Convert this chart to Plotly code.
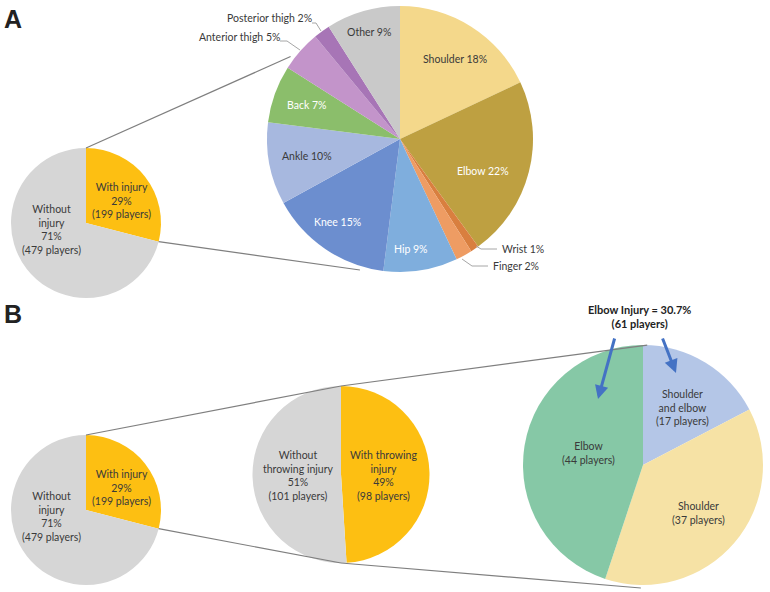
import math
import plotly.graph_objects as go

W, H = 770, 592

# ---------------- data ----------------
overall_labels = ["With injury", "Without injury"]
overall_pct = [29, 71]
overall_players = [199, 479]

site_labels = ["Shoulder", "Elbow", "Wrist", "Finger", "Hip", "Knee", "Ankle",
               "Back", "Anterior thigh", "Posterior thigh", "Other"]
site_pct = [18, 22, 1, 2, 9, 15, 10, 7, 5, 2, 9]

throw_labels = ["With throwing injury", "Without throwing injury"]
throw_pct = [49, 51]
throw_players = [98, 101]

elbow_labels = ["Shoulder and elbow", "Shoulder", "Elbow"]
elbow_players = [17, 37, 44]

# ---------------- styles ----------------
gold, grey = "#FDBF12", "#D6D6D6"
site_colors = ["#F4D88B", "#BEA041", "#D97F3F", "#EE9C63", "#7FAEDD", "#6C8ECF",
               "#A7B8DF", "#8BBE6B", "#C394CA", "#A775B6", "#C9C9C9"]
elbow_colors = ["#B4C6E7", "#F6E2A5", "#86C8A6"]
dark = "#3A3A3A"
FONT = "Lato"


def px(x):
    return x / W


def py(y):
    return 1 - y / H


def dom(cx, cy, r):
    return dict(x=[px(cx - r), px(cx + r)], y=[py(cy + r), py(cy - r)])


def polar(c, r, deg):
    a = math.radians(deg)
    return (c[0] + r * math.sin(a), c[1] - r * math.cos(a))


# pie geometry (pixels)
A_small, A_small_r = (86, 223), 75
A_big, A_big_r = (400, 139), 133
B_small, B_small_r = (86, 510), 75
B_mid, B_mid_r = (341, 474.5), 88.5
B_big, B_big_r = (643, 465), 120

fig = go.Figure()


def add_pie(values, colors, c, r, name):
    fig.add_trace(go.Pie(values=values, marker=dict(colors=colors, line=dict(width=0)),
                         sort=False, direction="clockwise", rotation=0,
                         textinfo="none", hoverinfo="none", showlegend=False,
                         domain=dom(c[0], c[1], r), name=name))


add_pie(overall_pct, [gold, grey], A_small, A_small_r, "A overall")
add_pie(site_pct, site_colors, A_big, A_big_r, "A sites")
add_pie(overall_pct, [gold, grey], B_small, B_small_r, "B overall")
add_pie(throw_pct, [gold, grey], B_mid, B_mid_r, "B throwing")
add_pie(elbow_players, elbow_colors, B_big, B_big_r, "B elbow")

shapes = []


def seg(p, q, color="#7F7F7F", width=1.2):
    shapes.append(dict(type="line", xref="paper", yref="paper",
                       x0=px(p[0]), y0=py(p[1]), x1=px(q[0]), y1=py(q[1]),
                       line=dict(color=color, width=width)))


# connector lines panel A
edge_deg = overall_pct[0] / sum(overall_pct) * 360
seg(polar(A_small, A_small_r, 0), polar(A_big, A_big_r + 4, 307))
seg(polar(A_small, A_small_r, edge_deg), polar(A_big, A_big_r + 4, 197))
# connector lines panel B
seg(polar(B_small, B_small_r, 0), polar(B_mid, B_mid_r, 0))
seg(polar(B_mid, B_mid_r, 0), polar(B_big, B_big_r, 2))
seg(polar(B_small, B_small_r, edge_deg), polar(B_mid, B_mid_r, 180))
seg(polar(B_mid, B_mid_r, 180), polar(B_big, B_big_r + 3, 181))

# leader lines for small slices
lead = "#A6A6A6"
seg((476, 246), (481, 249), lead, 1)
seg((481, 249), (497, 249), lead, 1)
seg((462, 259), (472, 266), lead, 1)
seg((472, 266), (488, 266), lead, 1)
seg((300, 50), (287, 41), lead, 1)
seg((287, 41), (280, 41), lead, 1)
seg((321, 31), (316, 23), lead, 1)
seg((316, 23), (312, 23), lead, 1)

annotations = []


def txt(x, y, s, color=dark, size=10.5, bold=False, xanchor="center"):
    if bold:
        s = "<b>" + s + "</b>"
    annotations.append(dict(x=px(x), y=py(y), xref="paper", yref="paper", text=s,
                            showarrow=False, xanchor=xanchor, yanchor="middle",
                            align="center",
                            font=dict(family=FONT, size=size, color=color)))


# panel letters
for letter, ly in (("A", 19), ("B", 314)):
    annotations.append(dict(x=px(13), y=py(ly), xref="paper", yref="paper",
                            text=f"<b>{letter}</b>", showarrow=False,
                            xanchor="center", yanchor="middle",
                            font=dict(family="Liberation Sans", size=25, color="#222")))

# small pies labels
for dy in (0, 287):
    txt(121, 200 + dy, f"{overall_labels[0]}<br>{overall_pct[0]}%<br>({overall_players[0]} players)")
    txt(52, 229 + dy, f"Without<br>injury<br>{overall_pct[1]}%<br>({overall_players[1]} players)")

# big pie A labels
site_pos = [(455, 59, dark), (483, 171, "white"), (500, 249, dark), (491, 266, dark),
            (411, 249, "white"), (337, 222, "white"), (307, 156, dark), (306, 105, "white"),
            (239, 37, dark), (269, 18, dark), (369, 32, dark)]
for i, (lab, v) in enumerate(zip(site_labels, site_pct)):
    x, y, col = site_pos[i]
    if lab in ("Wrist", "Finger"):
        txt(x, y, f"{lab} {v}%", col, xanchor="left")
    else:
        txt(x, y, f"{lab} {v}%", col)

# middle pie labels
txt(383, 475, f"With throwing<br>injury<br>{throw_pct[0]}%<br>({throw_players[0]} players)")
txt(298, 475, f"Without<br>throwing injury<br>{throw_pct[1]}%<br>({throw_players[1]} players)")

# big pie B labels
txt(682, 407, f"Shoulder<br>and elbow<br>({elbow_players[0]} players)")
txt(698, 513, f"{elbow_labels[1]}<br>({elbow_players[1]} players)")
txt(588, 453, f"{elbow_labels[2]}<br>({elbow_players[2]} players)")

elbow_total = elbow_players[0] + elbow_players[2]
elbow_share = elbow_total / overall_players[0] * 100
txt(639, 316, f"Elbow Injury = {elbow_share:.1f}%<br>({elbow_total} players)", "#222", 11, bold=True)

# arrows
for head, tail in [((598, 399), (615, 337)), ((676, 373), (662, 337))]:
    annotations.append(dict(x=px(head[0]), y=py(head[1]), xref="paper", yref="paper",
                            ax=tail[0] - head[0], ay=tail[1] - head[1], text="",
                            showarrow=True, arrowhead=2, arrowsize=0.9, arrowwidth=3,
                            arrowcolor="#4472C4"))

fig.update_layout(width=W, height=H, margin=dict(l=0, r=0, t=0, b=0),
                  paper_bgcolor="white", plot_bgcolor="white",
                  shapes=shapes, annotations=annotations)

fig.write_html("out.html", config={"displayModeBar": False},
               post_script="document.body.style.margin='0';document.body.style.overflow='hidden';")
